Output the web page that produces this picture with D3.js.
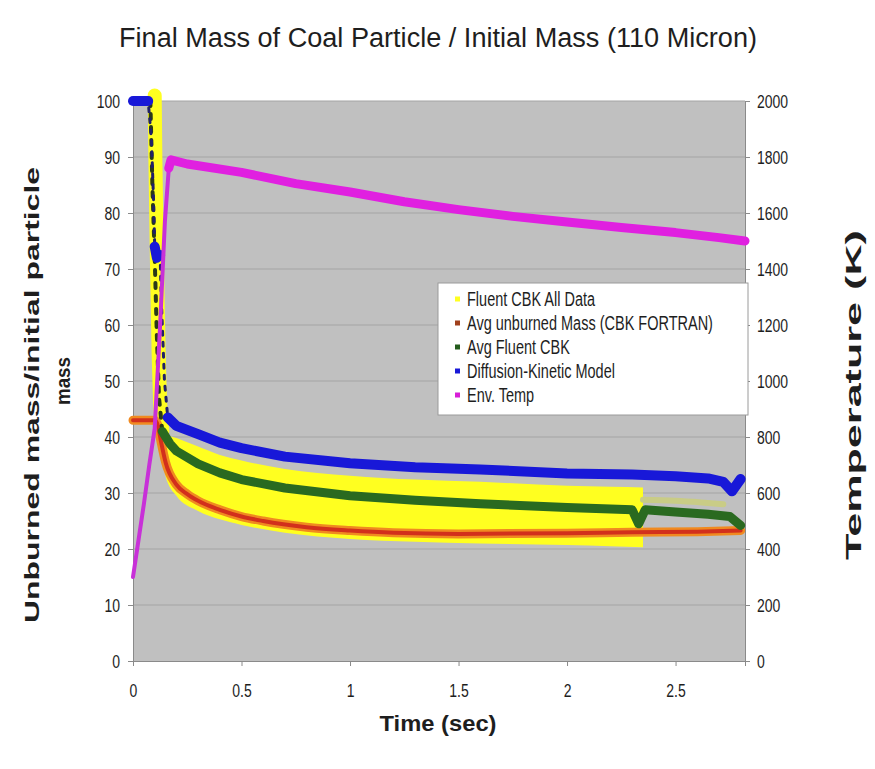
<!DOCTYPE html>
<html>
<head>
<meta charset="utf-8">
<script src="https://cdn.jsdelivr.net/npm/d3@7"></script>
<style>
body { margin: 0; background: #fff; }
svg text { font-family: "Liberation Sans", Arial, sans-serif; fill: #1e1e1e; }
</style>
</head>
<body>
<svg id="drawing_region" width="875" height="769"></svg>
<script>
// Fluent CBK All Data: yellow cloud (drop, then band between upper and lower edge)
const allDataDropT = [0.1, 0.103, 0.11, 0.118, 0.125, 0.135];
const allDataDropV = [101, 90, 72, 55, 46, 41];
const allDataT  = [0.13, 0.15, 0.2, 0.3, 0.4, 0.5, 0.7, 1.0, 1.3, 1.6, 2.0, 2.2, 2.35];
const allDataHi = [41, 40.5, 39.8, 38.3, 36.8, 35.8, 34.3, 33.1, 32.4, 32.0, 31.3, 31.1, 31.0];
const allDataLo = [40, 33, 29.5, 26.8, 25.3, 24.3, 22.9, 21.8, 21.3, 21.0, 20.7, 20.5, 20.3];
const allDataTailT = [2.35, 2.5, 2.62, 2.72];
const allDataTailV = [28.8, 28.6, 28.3, 28.0];

// Avg unburned Mass (CBK FORTRAN)
const fortranT = [0, 0.1, 0.115, 0.13, 0.15, 0.2, 0.25, 0.3, 0.4, 0.5, 0.6, 0.8, 1.0, 1.2, 1.5, 2.0, 2.3, 2.6, 2.8];
const fortranV = [43, 43, 42, 39, 35.5, 31.5, 29.8, 28.6, 27, 25.8, 25, 23.9, 23.3, 22.9, 22.7, 22.8, 23, 23.1, 23.3];

// Avg Fluent CBK
const fluentAvgDropT = [0.08, 0.085, 0.09, 0.1, 0.11, 0.12, 0.135];
const fluentAvgDropV = [100, 92, 84, 72, 58, 47, 41];
const fluentAvgT = [0.135, 0.17, 0.2, 0.3, 0.4, 0.5, 0.7, 1.0, 1.3, 1.6, 2.0, 2.3, 2.33, 2.36, 2.5, 2.65, 2.75, 2.8];
const fluentAvgV = [41, 38.8, 37.5, 35.2, 33.6, 32.4, 30.9, 29.5, 28.7, 28.1, 27.4, 27.0, 24.5, 27.0, 26.6, 26.2, 25.8, 24.2];

// Diffusion-Kinetic Model
const diffusionT = [0, 0.07, 0.085, 0.095, 0.1, 0.11, 0.125, 0.13, 0.145, 0.16, 0.2, 0.3, 0.4, 0.5, 0.7, 1.0, 1.3, 1.6, 2.0, 2.3, 2.5, 2.65, 2.72, 2.76, 2.8];
const diffusionV = [100, 100, 93, 82, 74, 72, 72.5, 65, 50, 43.5, 42, 40.5, 39, 38, 36.5, 35.3, 34.6, 34.2, 33.5, 33.3, 33.0, 32.6, 32, 30.3, 32.5];

// Env. Temp (K, right axis)
const envTempRiseT = [0, 0.025, 0.05, 0.075, 0.1, 0.125, 0.147, 0.165, 0.175];
const envTempRiseV = [300, 430, 560, 700, 830, 1200, 1570, 1760, 1790];
const envTempT = [0.165, 0.175, 0.25, 0.5, 0.75, 1.0, 1.25, 1.5, 1.75, 2.0, 2.25, 2.5, 2.7, 2.82];
const envTempV = [1760, 1790, 1775, 1745, 1705, 1675, 1640, 1612, 1588, 1568, 1548, 1530, 1512, 1500];

const massTicks = [0, 10, 20, 30, 40, 50, 60, 70, 80, 90, 100];
const tempTicks = [0, 200, 400, 600, 800, 1000, 1200, 1400, 1600, 1800, 2000];
const timeTicks = [0, 0.5, 1, 1.5, 2, 2.5];
const timeTickLabels = ["0", "0.5", "1", "1.5", "2", "2.5"];

const legendLabels = ["Fluent CBK All Data", "Avg unburned Mass (CBK FORTRAN)", "Avg Fluent CBK", "Diffusion-Kinetic Model", "Env. Temp"];
const legendColors = ["#ffff20", "#a0401c", "#245c1c", "#1818d8", "#d81ed8"];

const zip = (ts, vs) => ts.map((t, i) => [t, vs[i]]);

class CoalChart {
    constructor(selector) {
        this.svg = d3.select(selector);
        this.left = 133; this.right = 745; this.top = 101; this.bottom = 661;
        this.x = d3.scaleLinear().domain([0, 2.82]).range([this.left, this.right]);
        this.y = d3.scaleLinear().domain([0, 100]).range([this.bottom, this.top]);
        this.yT = d3.scaleLinear().domain([0, 2000]).range([this.bottom, this.top]);
        this.drawFrame();
        this.drawSeries();
        this.drawLegend();
        this.drawTitles();
    }

    label(str, px, py, opt) {
        const t = this.svg.append('text')
            .attr('transform', `translate(${px},${py}) rotate(${opt.rotate || 0}) scale(1,${opt.sy || 1})`)
            .attr('text-anchor', opt.anchor || 'middle')
            .style('font-size', opt.size + 'px')
            .style('font-weight', opt.weight || 'normal')
            .text(str);
        if (opt.len) t.attr('textLength', opt.len).attr('lengthAdjust', 'spacingAndGlyphs');
        return t;
    }

    drawFrame() {
        this.svg.append('rect')
            .attr('x', this.left).attr('y', this.top)
            .attr('width', this.right - this.left).attr('height', this.bottom - this.top)
            .attr('fill', '#c0c0c0');

        this.svg.append('g').selectAll('line')
            .data(massTicks.slice(1))
            .join('line')
            .attr('x1', this.left).attr('x2', this.right)
            .attr('y1', d => this.y(d)).attr('y2', d => this.y(d))
            .attr('stroke', '#a4a4a4').attr('stroke-width', 1);

        const gl = this.svg.append('g').attr('transform', `translate(${this.left},0)`)
            .call(d3.axisLeft(this.y).tickValues(massTicks).tickSize(5).tickPadding(8));
        const gr = this.svg.append('g').attr('transform', `translate(${this.right},0)`)
            .call(d3.axisRight(this.yT).tickValues(tempTicks).tickFormat(d3.format('d')).tickSize(5).tickPadding(7));
        const gb = this.svg.append('g').attr('transform', `translate(0,${this.bottom})`)
            .call(d3.axisBottom(this.x).tickValues(timeTicks).tickFormat((d, i) => timeTickLabels[i]).tickSize(5));

        [gl, gr, gb].forEach(g => {
            g.select('.domain').attr('stroke', '#8a8a8a');
            g.selectAll('.tick line').attr('stroke', '#8a8a8a');
            g.selectAll('.tick text')
                .style('font-size', '14px')
                .attr('fill', '#1e1e1e')
                .attr('transform', 'scale(1,1.35)');
        });
        gb.selectAll('.tick text').attr('y', 16.7);
    }

    drawSeries() {
        const line = d3.line().x(d => this.x(d[0])).y(d => this.y(d[1]));
        const lineT = d3.line().x(d => this.x(d[0])).y(d => this.yT(d[1]));
        const area = d3.area()
            .x(d => this.x(d.t)).y0(d => this.y(d.lo)).y1(d => this.y(d.hi))
            .curve(d3.curveMonotoneX);
        const smooth = d3.line().x(d => this.x(d[0])).y(d => this.y(d[1])).curve(d3.curveMonotoneX);
        const g = this.svg.append('g').attr('fill', 'none').attr('stroke-linejoin', 'round').attr('stroke-linecap', 'round');

        // yellow cloud
        g.append('path')
            .datum(allDataT.map((t, i) => ({t: t, hi: allDataHi[i], lo: allDataLo[i]})))
            .attr('d', area).attr('fill', '#ffff20');
        g.append('path').datum(zip(allDataDropT, allDataDropV))
            .attr('d', line).attr('stroke', '#ffff20').attr('stroke-width', 14);
        g.append('path').datum(zip(allDataTailT, allDataTailV))
            .attr('d', smooth).attr('stroke', '#c9cc86').attr('stroke-width', 6);

        // CBK FORTRAN average
        g.append('path').datum(zip(fortranT, fortranV))
            .attr('d', smooth).attr('stroke', '#f08a20').attr('stroke-width', 9);
        g.append('path').datum(zip(fortranT, fortranV))
            .attr('d', smooth).attr('stroke', '#d2301c').attr('stroke-width', 4);

        // Fluent average
        g.append('path').datum(zip(fluentAvgDropT, fluentAvgDropV))
            .attr('d', line).attr('stroke', '#2a3a18').attr('stroke-width', 4).attr('stroke-dasharray', '5,8');
        g.append('path').datum(zip(fluentAvgT, fluentAvgV))
            .attr('d', line).attr('stroke', '#2a6a20').attr('stroke-width', 9);

        // diffusion-kinetic model: thin dotted through the drop, thick on the plateaus
        const diff = zip(diffusionT, diffusionV);
        g.append('path').datum(diff)
            .attr('d', line).attr('stroke', '#20206a').attr('stroke-width', 3).attr('stroke-dasharray', '4,7');
        [diff.filter(d => d[0] <= 0.07), diff.filter(d => d[0] >= 0.1 && d[0] <= 0.125), diff.filter(d => d[0] >= 0.16)]
            .forEach(part => g.append('path').datum(part)
                .attr('d', line).attr('stroke', '#1818d8').attr('stroke-width', 10));

        // environment temperature
        g.append('path').datum(zip(envTempRiseT, envTempRiseV))
            .attr('d', lineT).attr('stroke', '#c830d8').attr('stroke-width', 4);
        g.append('path').datum(zip(envTempT, envTempV))
            .attr('d', lineT).attr('stroke', '#e020e0').attr('stroke-width', 9);
    }

    drawLegend() {
        const lg = this.svg.append('g');
        lg.append('rect')
            .attr('x', 438).attr('y', 283).attr('width', 310).attr('height', 132)
            .attr('fill', '#fff').attr('stroke', '#9a9a9a');
        legendLabels.forEach((name, i) => {
            const ry = 299 + i * 24;
            lg.append('rect')
                .attr('x', 455).attr('y', ry - 2.5).attr('width', 5).attr('height', 5)
                .attr('fill', legendColors[i]);
            this.label(name, 467, ry + 7, {size: 14.5, sy: 1.35, anchor: 'start'});
        });
    }

    drawTitles() {
        this.label('Final Mass of Coal Particle / Initial Mass (110 Micron)', 438, 47,
            {size: 20, sy: 1.4, len: 638});
        this.label('Time (sec)', 438, 731, {size: 17, sy: 1.35, weight: 'bold', len: 117});
        this.label('Unburned mass/initial particle', 39, 395,
            {size: 20, rotate: -90, weight: 'bold', len: 456});
        this.label('mass', 70, 381, {size: 20, rotate: -90, weight: 'bold', len: 48});
        this.label('Temperature (K)', 861, 395,
            {size: 22, rotate: -90, weight: 'bold', len: 330});
    }
}

const myChart = new CoalChart('#drawing_region');
</script>
</body>
</html>
